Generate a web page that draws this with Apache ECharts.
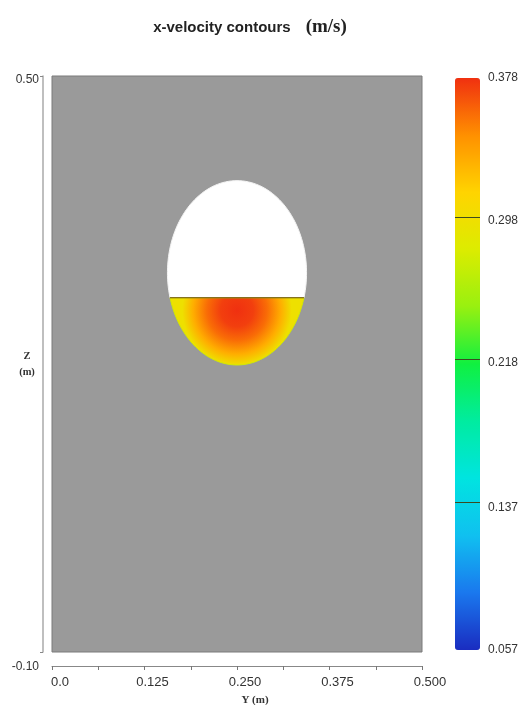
<!DOCTYPE html>
<html><head><meta charset="utf-8">
<script src="https://cdn.jsdelivr.net/npm/echarts@6/dist/echarts.min.js"></script>
<style>html,body{margin:0;padding:0;background:#fff}#c{width:525px;height:705px}</style>
</head><body><div id="c"></div>
<script>
// ---- data ----
const titleText = 'x-velocity contours';
const titleUnit = '(m/s)';
const yAxisName = 'Y (m)';
const zAxisName = 'Z\n(m)';
const yRange = [0, 0.5];
const yTickStep = 0.125;
const zRange = [-0.10, 0.50];
const zTickLabels = [-0.10, 0.50];
const colorbarRange = [0.057, 0.378];
const colorbarTicks = [0.057, 0.137, 0.218, 0.298, 0.378];
const colorbarLines = [0.137, 0.218, 0.298];
const velocityColors = ['#1a2cc0', '#1a78ee', '#10c0f0', '#00e4e0', '#00eca0', '#10f040',
                        '#98f010', '#dcec00', '#ffd400', '#ff9000', '#f03010'];
// bubble: centre Y, centre Z, semi-axis Y, semi-axis Z, interface Z
const bubble = [0.25, 0.295, 0.094, 0.096, 0.269];
// location of maximum x-velocity in the liquid cap
const capPeak = [0.25, 0.256];
// x-velocity from the peak outward to the cap boundary
const capVelocity = [0.378, 0.373, 0.358, 0.332, 0.298];
const capRadius = [0, 0.3, 0.55, 0.8, 1];

// ---- chart ----
const chart = echarts.init(document.getElementById('c'), null, {renderer: 'canvas'});
const vmin = colorbarRange[0], vmax = colorbarRange[1];
function vColor(v) { return echarts.color.lerp((v - vmin) / (vmax - vmin), velocityColors); }

function renderBubble(params, api) {
  const cy = api.value(0), cz = api.value(1), ry = api.value(2), rz = api.value(3), zi = api.value(4);
  const phi0 = Math.asin((zi - cz) / rz);
  const N = 90;
  const top = [], cap = [];
  for (let i = 0; i <= N; i++) {
    const th = phi0 + (Math.PI - 2 * phi0) * i / N;
    top.push(api.coord([cy + ry * Math.cos(th), cz + rz * Math.sin(th)]));
  }
  for (let i = 0; i <= N; i++) {
    const th = Math.PI - phi0 + (Math.PI + 2 * phi0) * i / N;
    cap.push(api.coord([cy + ry * Math.cos(th), cz + rz * Math.sin(th)]));
  }
  const pk = api.coord(capPeak);
  const bot = api.coord([cy, cz - rz]);
  const r = bot[1] - pk[1];
  const stops = capVelocity.map((v, i) => ({offset: capRadius[i], color: vColor(v)}));
  const grad = new echarts.graphic.RadialGradient(pk[0], pk[1], r, stops, true);
  return {
    type: 'group',
    children: [
      {type: 'polygon', shape: {points: top}, style: {fill: '#ffffff', stroke: '#f4f4f4', lineWidth: 1}},
      {type: 'polygon', shape: {points: cap}, style: {fill: grad, stroke: '#d4ea00', lineWidth: 1}},
      {type: 'line', shape: {x1: cap[0][0], y1: cap[0][1], x2: cap[N][0], y2: cap[N][1]},
       style: {stroke: '#6a4a1a', lineWidth: 1.2}}
    ]
  };
}

const labelFont = {fontFamily: 'Liberation Sans, Arial, sans-serif', fontSize: 13, color: '#333'};

chart.setOption({
  animation: false,
  backgroundColor: '#ffffff',
  title: {
    text: '{a|' + titleText + '}   {b|' + titleUnit + '}',
    left: 245, top: 13, textAlign: 'center',
    textStyle: {
      rich: {
        a: {fontFamily: 'Liberation Sans, Arial, sans-serif', fontWeight: 'bold', fontSize: 15, color: '#222'},
        b: {fontFamily: 'Liberation Serif, Times New Roman, serif', fontWeight: 'bold', fontSize: 19, color: '#222'}
      }
    }
  },
  grid: [
    {left: 52, top: 76, width: 370, height: 576, show: true, backgroundColor: '#9a9a9a',
     borderColor: '#7a7a7a', borderWidth: 1, containLabel: false, outerBoundsMode: 'none'},
    {left: 455, top: 78, width: 25, height: 572, show: false, containLabel: false, outerBoundsMode: 'none'}
  ],
  xAxis: [
    {gridIndex: 0, type: 'value', min: yRange[0], max: yRange[1], interval: yTickStep,
     position: 'bottom', offset: 14,
     axisLine: {onZero: false, lineStyle: {color: '#888', width: 1}},
     axisTick: {show: true, length: 4, lineStyle: {color: '#777'}},
     minorTick: {show: true, splitNumber: 2, length: 4, lineStyle: {color: '#777'}},
     splitLine: {show: false},
     axisLabel: Object.assign({margin: 10, padding: [0, 0, 0, 16],
       formatter: v => v === 0 ? '0.0' : v.toFixed(3)}, labelFont),
     name: yAxisName, nameLocation: 'middle', nameGap: 29, nameMoveOverlap: false,
     nameTextStyle: {fontFamily: 'Liberation Serif, serif', fontWeight: 'bold', fontSize: 11, color: '#333', padding: [0, 0, 0, 36]}},
    {gridIndex: 1, type: 'value', min: 0, max: 1, show: false}
  ],
  yAxis: [
    {gridIndex: 0, type: 'value', min: zRange[0], max: zRange[1], offset: 9,
     axisLine: {onZero: false, lineStyle: {color: '#aaa', width: 1.5}},
     axisTick: {show: true, length: 3, customValues: zTickLabels, lineStyle: {color: '#888'}},
     splitLine: {show: false},
     axisLabel: Object.assign({margin: 4, customValues: zTickLabels,
       formatter: v => v < 0 ? '{lo|' + v.toFixed(2) + '}' : '{hi|' + v.toFixed(2) + '}',
       rich: {
         lo: {fontFamily: 'Liberation Sans, Arial, sans-serif', fontSize: 12, color: '#333', padding: [30, 0, 0, 0]},
         hi: {fontFamily: 'Liberation Sans, Arial, sans-serif', fontSize: 12, color: '#333', padding: [8, 0, 0, 0]}
       }
     }, labelFont),
     name: zAxisName, nameLocation: 'middle', nameRotate: 0, nameGap: 16, nameMoveOverlap: false,
     nameTextStyle: {fontFamily: 'Liberation Serif, serif', fontWeight: 'bold', fontSize: 10.5, color: '#333',
       align: 'center', verticalAlign: 'middle', lineHeight: 16}},
    {gridIndex: 1, type: 'value', min: colorbarRange[0], max: colorbarRange[1], position: 'right',
     axisLine: {show: false}, axisTick: {show: false}, splitLine: {show: false},
     axisLabel: {show: true, customValues: colorbarTicks, margin: 8, formatter: v => v.toFixed(3),
       fontFamily: 'Liberation Sans, Arial, sans-serif', fontSize: 12, color: '#333'}}
  ],
  visualMap: {
    type: 'continuous', min: colorbarRange[0], max: colorbarRange[1], orient: 'vertical',
    left: 455, top: 78, itemWidth: 25, itemHeight: 572, padding: 0,
    calculable: false, showLabel: false, seriesIndex: [],
    inRange: {color: velocityColors}
  },
  series: [
    {type: 'custom', xAxisIndex: 0, yAxisIndex: 0, renderItem: renderBubble, clip: false,
     encode: {x: 0, y: 1}, data: [bubble], silent: true, z: 3},
    {type: 'line', xAxisIndex: 1, yAxisIndex: 1, data: [], silent: true,
     markLine: {silent: true, symbol: ['none', 'none'], z: 10, label: {show: false},
       lineStyle: {color: '#3c4a20', width: 1, type: 'solid'},
       data: colorbarLines.map(v => ({yAxis: v}))}}
  ]
});
</script></body></html>
